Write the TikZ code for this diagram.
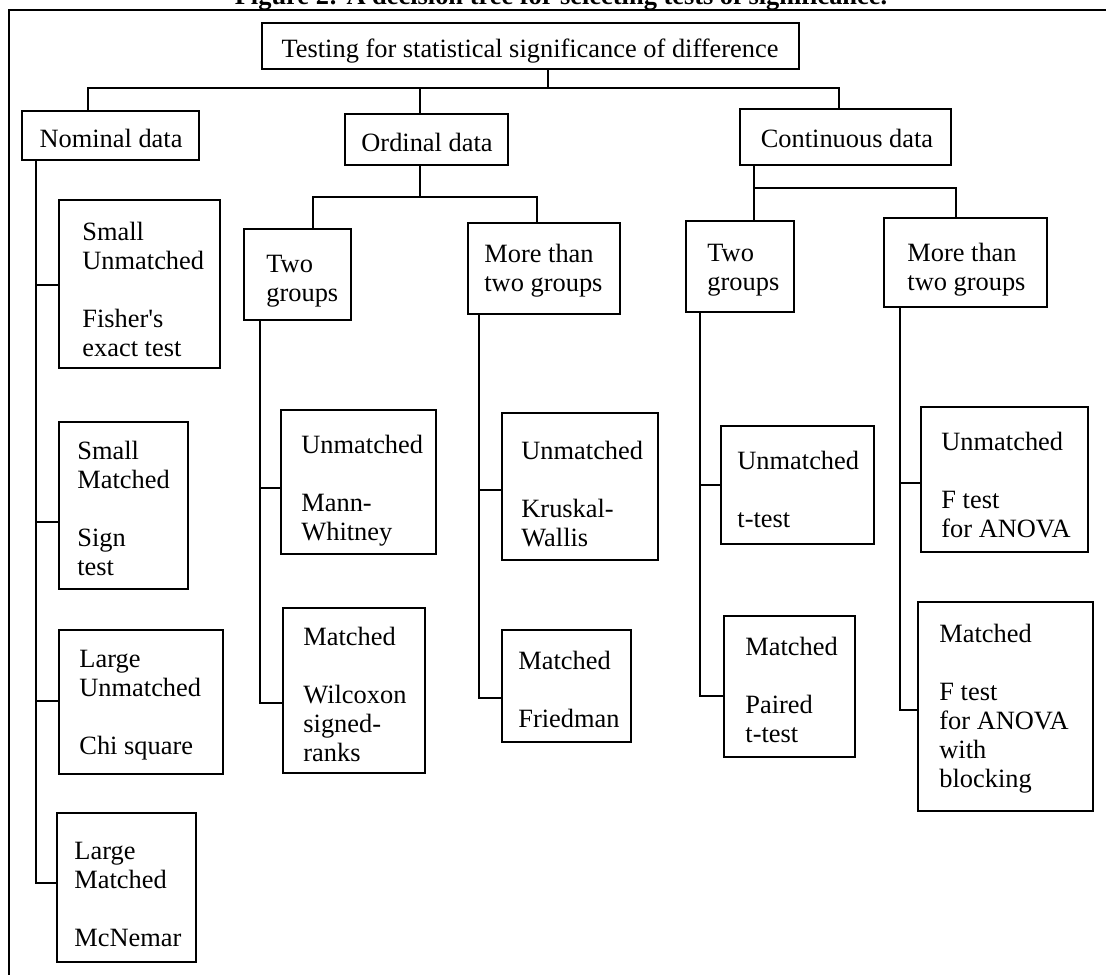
\documentclass[tikz,border=0pt]{standalone}
\usepackage{fontspec}
\setmainfont{Liberation Serif}
\usetikzlibrary{fit}

\newcommand\boxfont{\fontsize{13.2pt}{14.5pt}\selectfont}
\newcommand\headfont{\fontsize{13.2pt}{14.5pt}\selectfont\bfseries}
% straight typewriter apostrophe, bypassing the TeX quote mapping
\newcommand\straightquote{\XeTeXglyph\XeTeXcharglyph"0027\relax}

\begin{document}
\begin{tikzpicture}[x=0.5pt,y=-0.5pt,
  box/.style={draw, line width=1pt, inner sep=0pt},
  lbl/.style={anchor=north west, inner sep=0pt, align=left, font=\boxfont, yshift=10.15pt},
  ctr/.style={anchor=base, inner sep=0pt, font=\boxfont},
  link/.style={line width=1pt}]

\useasboundingbox (0,0) rectangle (1106,974);
\clip (0,0) rectangle (1106,974);

% caption and frame
\node[anchor=base, inner sep=0pt, font=\headfont] (title) at (561,5)
  {Figure 2: A decision tree for selecting tests of significance.};
\draw[line width=1pt] (9,10.5) rectangle (1130,1000);

% ---------- boxes ----------
\node[box, fit={(262,23) (799,69)}]   (top)   {};
\node[box, fit={(22,111) (199,160)}]  (nom)   {};
\node[box, fit={(345,114) (508,165)}] (ord)   {};
\node[box, fit={(740,109) (951,165)}] (cont)  {};

\node[box, fit={(244,229) (351,320)}] (two1)  {};
\node[box, fit={(468,223) (620,314)}] (more1) {};
\node[box, fit={(686,221) (794,312)}] (two2)  {};
\node[box, fit={(884,218) (1047,307)}] (more2) {};

\node[box, fit={(59,200) (220,368)}]  (su) {};
\node[box, fit={(59,422) (188,589)}]  (sm) {};
\node[box, fit={(59,630) (223,774)}]  (lu) {};
\node[box, fit={(57,813) (196,962)}]  (lm) {};

\node[box, fit={(281,410) (436,554)}] (mw) {};
\node[box, fit={(283,608) (425,773)}] (wx) {};
\node[box, fit={(502,413) (658,560)}] (kw) {};
\node[box, fit={(502,630) (631,742)}] (fr) {};

\node[box, fit={(721,426) (874,544)}] (tt) {};
\node[box, fit={(724,616) (855,757)}] (pt) {};
\node[box, fit={(921,407) (1088,552)}] (fu) {};
\node[box, fit={(918,602) (1093,811)}] (fb) {};

% ---------- texts ----------
\node[ctr] (top-t)  at (530,57.5) {Testing for statistical significance of difference};
\node[ctr] (nom-t)  at (111,148) {Nominal data};
\node[ctr] (ord-t)  at (427,151) {Ordinal data};
\node[ctr] (cont-t) at (847,148) {Continuous data};

\node[lbl] (two1-t)  at (266,272) {\strut Two\\groups};
\node[lbl] (more1-t) at (484,262) {\strut More than\\two groups};
\node[lbl] (two2-t)  at (707,261) {\strut Two\\groups};
\node[lbl] (more2-t) at (907,261) {\strut More than\\two groups};

\node[lbl] (su-t) at (82,240) {\strut Small\\Unmatched\\[14.5pt]Fisher\straightquote s\\exact test};
\node[lbl] (sm-t) at (77,459) {\strut Small\\Matched\\[14.5pt]Sign\\test};
\node[lbl] (lu-t) at (79,667) {\strut Large\\Unmatched\\[14.5pt]Chi square};
\node[lbl] (lm-t) at (74,859) {\strut Large\\Matched\\[14.5pt]McNemar};

\node[lbl] (mw-t) at (301,453) {\strut Unmatched\\[14.5pt]Mann-\\Whitney};
\node[lbl] (wx-t) at (303,645) {\strut Matched\\[14.5pt]Wilcoxon\\signed-\\ranks};
\node[lbl] (kw-t) at (521,459) {\strut Unmatched\\[14.5pt]Kruskal-\\Wallis};
\node[lbl] (fr-t) at (518,669) {\strut Matched\\[14.5pt]Friedman};

\node[lbl] (tt-t) at (737,469) {\strut Unmatched\\[14.5pt]t-test};
\node[lbl] (pt-t) at (745,655) {\strut Matched\\[14.5pt]Paired\\t-test};
\node[lbl] (fu-t) at (941,450) {\strut Unmatched\\[14.5pt]F test\\for ANOVA};
\node[lbl] (fb-t) at (939,642) {\strut Matched\\[14.5pt]F test\\for ANOVA\\with\\blocking};

% ---------- connectors: first level ----------
\coordinate (xTop) at (548,0);
\coordinate (xNom) at (88,0);
\coordinate (xOrd) at (420,0);
\coordinate (xCon) at (839,0);
\coordinate (yBar) at (0,88);
\draw[link] (xTop |- top.south) -- (xTop |- yBar);
\draw[link] (xNom |- nom.north) -- (xNom |- yBar) -- (xCon |- yBar) -- (xCon |- cont.north);
\draw[link] (xOrd |- yBar) -- (xOrd |- ord.north);

% ordinal split
\coordinate (yOrdBar) at (0,197);
\coordinate (xO2) at (313,0);
\coordinate (xOm) at (537,0);
\draw[link] (xOrd |- ord.south) -- (xOrd |- yOrdBar);
\draw[link] (xO2 |- two1.north) -- (xO2 |- yOrdBar) -- (xOm |- yOrdBar) -- (xOm |- more1.north);

% continuous split
\coordinate (yConBar) at (0,188);
\coordinate (xC2) at (754,0);
\coordinate (xCm) at (956,0);
\draw[link] (xC2 |- cont.south) -- (xC2 |- two2.north);
\draw[link] (xC2 |- yConBar) -- (xCm |- yConBar) -- (xCm |- more2.north);

% ---------- branch points on the leaf boxes ----------
\coordinate (suB) at ([yshift=-0.5pt]su.west);
\coordinate (smB) at ([yshift=-8.25pt]sm.west);
\coordinate (luB) at ([yshift=0.5pt]lu.west);
\coordinate (lmB) at ([yshift=2.25pt]lm.west);
\coordinate (mwB) at ([yshift=-3pt]mw.west);
\coordinate (wxB) at ([yshift=-6.25pt]wx.west);
\coordinate (kwB) at ([yshift=-1.75pt]kw.west);
\coordinate (frB) at ([yshift=-6pt]fr.west);
\coordinate (ttB) at (tt.west);
\coordinate (ptB) at ([yshift=-4.75pt]pt.west);
\coordinate (fuB) at ([yshift=-1.75pt]fu.west);
\coordinate (fbB) at ([yshift=-1.75pt]fb.west);

% trunks
\coordinate (tNom) at (36,0);
\coordinate (tO2) at (260,0);
\coordinate (tOm) at (479,0);
\coordinate (tC2) at (700,0);
\coordinate (tCm) at (900,0);

\draw[link] (tNom |- nom.south) |- (lmB);
\draw[link] (tNom |- suB) -- (suB);
\draw[link] (tNom |- smB) -- (smB);
\draw[link] (tNom |- luB) -- (luB);

\draw[link] (tO2 |- two1.south) |- (wxB);
\draw[link] (tO2 |- mwB) -- (mwB);

\draw[link] (tOm |- more1.south) |- (frB);
\draw[link] (tOm |- kwB) -- (kwB);

\draw[link] (tC2 |- two2.south) |- (ptB);
\draw[link] (tC2 |- ttB) -- (ttB);

\draw[link] (tCm |- more2.south) |- (fbB);
\draw[link] (tCm |- fuB) -- (fuB);

\end{tikzpicture}
\end{document}
